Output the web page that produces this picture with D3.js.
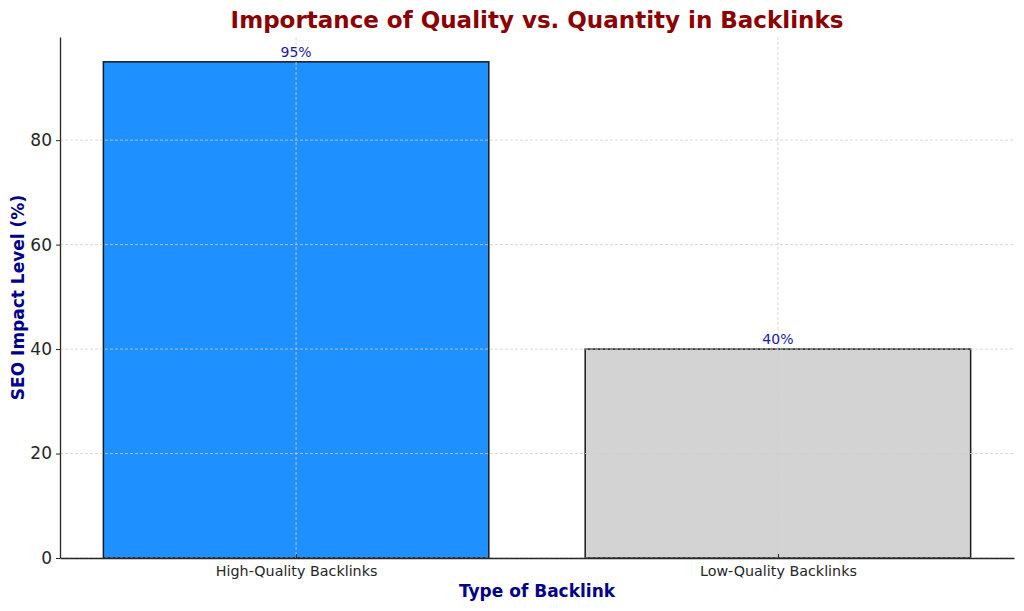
<!DOCTYPE html>
<html>
<head>
<meta charset="utf-8">
<script src="https://cdn.jsdelivr.net/npm/d3@7"></script>
<style>
  html, body { margin: 0; padding: 0; background: #fff; }
  svg { display: block; font-family: "DejaVu Sans", sans-serif; }
</style>
</head>
<body>
<div id="chart"></div>
<script>
// Datos del gráfico
const categories = ['High-Quality Backlinks', 'Low-Quality Backlinks'];
const impactValues = [95, 40];
const barColors = ['#1e90ff', '#d3d3d3'];
const yTicks = [0, 20, 40, 60, 80];

const width = 1024;
const height = 611;
const margin = { top: 37, right: 10, bottom: 53, left: 60 };
const innerW = width - margin.left - margin.right;
const innerH = height - margin.top - margin.bottom;

const svg = d3.select('#chart').append('svg')
    .attr('width', width)
    .attr('height', height);

const g = svg.append('g')
    .attr('transform', `translate(${margin.left},${margin.top})`);

// Escalas estilo matplotlib (márgenes del 5%)
const barW = 0.8;
const xMin = -barW / 2, xMax = categories.length - 1 + barW / 2;
const xPad = (xMax - xMin) * 0.05;
const x = d3.scaleLinear()
    .domain([xMin - xPad, xMax + xPad])
    .range([0, innerW]);

const yMax = d3.max(impactValues) * 1.05;
const y = d3.scaleLinear()
    .domain([0, yMax])
    .range([innerH, 0]);

// Barras
g.append('g')
    .selectAll('rect')
    .data(impactValues)
    .enter().append('rect')
    .attr('x', (d, i) => x(i - barW / 2))
    .attr('y', d => y(d))
    .attr('width', (d, i) => x(i + barW / 2) - x(i - barW / 2))
    .attr('height', d => innerH - y(d))
    .attr('fill', (d, i) => barColors[i])
    .attr('stroke', '#1a1a1a')
    .attr('stroke-width', 1.5);

// Rejilla (encima de las barras)
const grid = g.append('g');
grid.selectAll('line.gy')
    .data(yTicks)
    .enter().append('line')
    .attr('class', 'gy')
    .attr('x1', 0).attr('x2', innerW)
    .attr('y1', d => y(d)).attr('y2', d => y(d))
    .attr('stroke', '#cfcfcf')
    .attr('stroke-width', 0.8)
    .attr('stroke-dasharray', '3,2');
grid.selectAll('line.gx')
    .data(categories)
    .enter().append('line')
    .attr('class', 'gx')
    .attr('x1', (d, i) => x(i)).attr('x2', (d, i) => x(i))
    .attr('y1', 0).attr('y2', innerH)
    .attr('stroke', '#cfcfcf')
    .attr('stroke-width', 0.8)
    .attr('stroke-dasharray', '3,2');

// Etiquetas de valor
g.append('g')
    .selectAll('text')
    .data(impactValues)
    .enter().append('text')
    .attr('x', (d, i) => x(i))
    .attr('y', d => y(d) - 5)
    .attr('text-anchor', 'middle')
    .attr('font-size', '14px')
    .attr('fill', '#1a1aa6')
    .text(d => `${d}%`);

// Eje Y
const yAxis = g.append('g')
    .call(d3.axisLeft(y).tickValues(yTicks).tickSizeInner(4).tickSizeOuter(0).tickPadding(4));
yAxis.select('.domain').attr('stroke', '#262626').attr('stroke-width', 1.3);
yAxis.selectAll('.tick line').attr('stroke', '#262626');
yAxis.selectAll('.tick text')
    .attr('font-size', '17px')
    .attr('fill', '#262626')
    .attr('font-family', '"DejaVu Sans", sans-serif');

// Eje X
const xAxis = g.append('g')
    .attr('transform', `translate(0,${innerH})`)
    .call(d3.axisBottom(x)
        .tickValues(d3.range(categories.length))
        .tickFormat(i => categories[i])
        .tickSize(0)
        .tickPadding(8));
xAxis.select('.domain').attr('stroke', '#262626').attr('stroke-width', 1.3);
xAxis.selectAll('.tick line').remove();
xAxis.selectAll('.tick').append('line')
    .attr('y1', 0).attr('y2', -4)
    .attr('stroke', '#262626');
xAxis.selectAll('.tick text')
    .attr('font-size', '14.3px')
    .attr('fill', '#262626')
    .attr('font-family', '"DejaVu Sans", sans-serif');

// Título y etiquetas de ejes
svg.append('text')
    .attr('x', margin.left + innerW / 2)
    .attr('y', 28)
    .attr('text-anchor', 'middle')
    .attr('font-size', '23px')
    .attr('font-weight', 'bold')
    .attr('fill', '#8b0000')
    .text('Importance of Quality vs. Quantity in Backlinks');

svg.append('text')
    .attr('x', margin.left + innerW / 2)
    .attr('y', 597)
    .attr('text-anchor', 'middle')
    .attr('font-size', '17px')
    .attr('font-weight', 'bold')
    .attr('fill', '#00008b')
    .text('Type of Backlink');

svg.append('text')
    .attr('transform', `translate(24,${margin.top + innerH / 2}) rotate(-90)`)
    .attr('text-anchor', 'middle')
    .attr('font-size', '17px')
    .attr('font-weight', 'bold')
    .attr('fill', '#00008b')
    .text('SEO Impact Level (%)');
</script>
</body>
</html>
